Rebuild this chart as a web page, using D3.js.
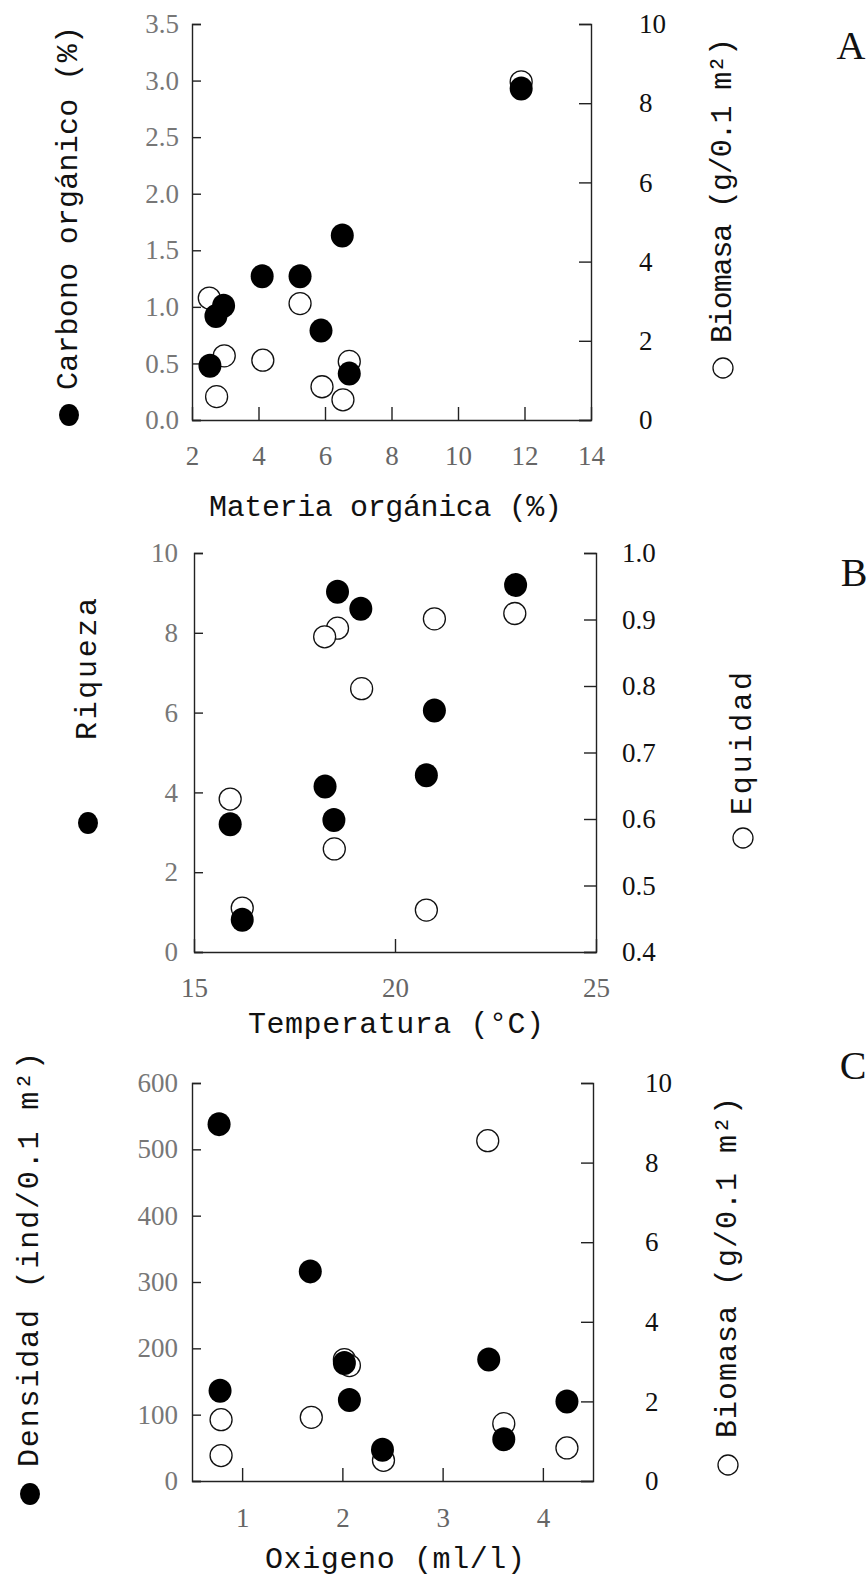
<!DOCTYPE html>
<meta charset="utf-8">
<script src="https://d3js.org/d3.v7.min.js"></script>
<style>
body { margin: 0; background-color: white; }
</style>
<div id="chart"></div>
<script>
// A: materia organica (%) -> carbono organico (filled) / biomasa (hollow)
var moFilled   = [11.9, 6.52, 4.11, 5.25, 2.95, 2.72, 5.88, 2.54, 6.73];
var carbono    = [2.93, 1.63, 1.27, 1.27, 1.01, 0.92, 0.79, 0.48, 0.41];
var moHollow   = [11.9, 2.52, 5.25, 2.97, 4.13, 6.73, 5.91, 6.54, 2.74];
var biomasaA   = [8.54, 3.08, 2.94, 1.62, 1.51, 1.48, 0.84, 0.51, 0.59];

// B: temperatura (C) -> riqueza (filled) / equidad (hollow)
var tempFilled = [18.57, 19.15, 23.0, 20.98, 20.78, 18.26, 18.48, 15.9, 16.2];
var riqueza    = [9.03, 8.6, 9.2, 6.05, 4.43, 4.15, 3.31, 3.2, 0.81];
var tempHollow = [22.98, 20.98, 18.57, 18.25, 19.17, 15.9, 18.49, 16.2, 20.78];
var equidad    = [0.909, 0.901, 0.887, 0.874, 0.796, 0.63, 0.555, 0.466, 0.463];

// C: oxigeno (ml/l) -> densidad (filled) / biomasa (hollow)
var oxFilled   = [0.77, 1.68, 0.78, 2.02, 2.07, 2.40, 3.46, 3.61, 4.24];
var densidad   = [538, 316, 136, 178, 122, 47, 183, 63, 120];
var oxHollow   = [3.45, 2.02, 2.07, 0.79, 1.69, 3.61, 0.79, 2.41, 4.24];
var biomasaC   = [8.55, 3.05, 2.9, 1.54, 1.6, 1.44, 0.64, 0.52, 0.83];

// ticks
var ticksA_x = [2, 4, 6, 8, 10, 12, 14];
var ticksA_l = [0, 0.5, 1, 1.5, 2, 2.5, 3, 3.5];
var ticksA_r = [0, 2, 4, 6, 8, 10];
var ticksB_x = [15, 20, 25];
var ticksB_l = [0, 2, 4, 6, 8, 10];
var ticksB_r = [0.4, 0.5, 0.6, 0.7, 0.8, 0.9, 1.0];
var ticksC_x = [1, 2, 3, 4];
var ticksC_l = [0, 100, 200, 300, 400, 500, 600];
var ticksC_r = [0, 2, 4, 6, 8, 10];

var width = 868, height = 1578;
var numFont = "'Liberation Serif', 'DejaVu Serif', serif";
var titleFont = "'Liberation Mono', 'DejaVu Sans Mono', monospace";

var svg = d3.select("#chart").append("svg")
    .attr("width", width)
    .attr("height", height);

svg.append("rect")
  .attr("width", "100%")
  .attr("height", "100%")
  .attr("fill", "white");

function rotTitle(g, x, y0, y1, txt) {
  g.append("text")
    .attr("transform", "translate(" + x + "," + y0 + ") rotate(-90)")
    .attr("dominant-baseline", "central")
    .attr("textLength", y0 - y1)
    .attr("lengthAdjust", "spacing")
    .style("font-family", titleFont)
    .style("font-size", "30px")
    .style("fill", "#111")
    .text(txt);
}

function drawPanel(p) {
  var x = d3.scaleLinear().domain(p.xDomain).range([p.left, p.right]);
  var yL = d3.scaleLinear().domain(p.yLDomain).range([p.bottom, p.top]);
  var yR = d3.scaleLinear().domain(p.yRDomain).range([p.bottom, p.top]);

  var g = svg.append("g");

  var gl = g.append("g")
      .attr("transform", "translate(" + p.left + ",0)")
      .call(d3.axisLeft(yL).tickValues(p.yLTicks).tickFormat(d3.format(p.yLFmt))
        .tickSizeInner(-9).tickSizeOuter(-9).tickPadding(p.padL));
  gl.selectAll("text").style("fill", "#777");

  var gr = g.append("g")
      .attr("transform", "translate(" + p.right + ",0)")
      .call(d3.axisRight(yR).tickValues(p.yRTicks).tickFormat(d3.format(p.yRFmt))
        .tickSizeInner(-12).tickSizeOuter(-12).tickPadding(p.padR));
  gr.selectAll("text").style("fill", "#111");

  var gb = g.append("g")
      .attr("transform", "translate(0," + p.bottom + ")")
      .call(d3.axisBottom(x).tickValues(p.xTicks).tickFormat(d3.format("d"))
        .tickSizeInner(-13).tickSizeOuter(0).tickPadding(p.padB));
  gb.selectAll("text").style("fill", "#666");

  g.selectAll(".domain, .tick line")
    .attr("stroke", "#222")
    .attr("stroke-width", 1.4);
  g.selectAll(".tick text")
    .style("font-family", numFont)
    .style("font-size", "27px");

  // hollow series (right axis)
  g.append("g")
    .selectAll("circle")
    .data(d3.zip(p.hx, p.hy))
    .join("circle")
      .attr("cx", function(d) { return x(d[0]); })
      .attr("cy", function(d) { return yR(d[1]); })
      .attr("r", 11)
      .attr("fill", "white")
      .attr("stroke", "#111")
      .attr("stroke-width", 1.3);

  // filled series (left axis)
  g.append("g")
    .selectAll("ellipse")
    .data(d3.zip(p.fx, p.fy))
    .join("ellipse")
      .attr("cx", function(d) { return x(d[0]); })
      .attr("cy", function(d) { return yL(d[1]); })
      .attr("rx", 11.5)
      .attr("ry", 12)
      .attr("fill", "#000");

  // axis titles with their symbols
  g.append("ellipse")
    .attr("cx", p.lt[0]).attr("cy", p.lt[1])
    .attr("rx", 10).attr("ry", 11).attr("fill", "#000");
  rotTitle(g, p.lt[0], p.lt[2], p.lt[3], p.leftTitle);

  g.append("circle")
    .attr("cx", p.rt[0]).attr("cy", p.rt[1])
    .attr("r", 10).attr("fill", "none")
    .attr("stroke", "#111").attr("stroke-width", 1.3);
  rotTitle(g, p.rt[0], p.rt[2], p.rt[3], p.rightTitle);

  g.append("text")
    .attr("x", p.bt[0])
    .attr("y", p.bt[2])
    .attr("dominant-baseline", "central")
    .attr("textLength", p.bt[1] - p.bt[0])
    .attr("lengthAdjust", "spacing")
    .style("font-family", titleFont)
    .style("font-size", "30px")
    .style("fill", "#111")
    .text(p.bottomTitle);

  g.append("text")
    .attr("x", p.letter[0])
    .attr("y", p.letter[1])
    .attr("text-anchor", "middle")
    .attr("dominant-baseline", "central")
    .style("font-family", numFont)
    .style("font-size", "40px")
    .style("fill", "#111")
    .text(p.letter[2]);
}

drawPanel({
  left: 192, right: 591, top: 24, bottom: 420,
  xDomain: [2, 14], yLDomain: [0, 3.5], yRDomain: [0, 10],
  xTicks: ticksA_x, yLTicks: ticksA_l, yRTicks: ticksA_r,
  yLFmt: ".1f", yRFmt: "d",
  padL: 13, padR: 48, padB: 26,
  fx: moFilled, fy: carbono, hx: moHollow, hy: biomasaA,
  leftTitle: "Carbono orgánico (%)", lt: [69, 415, 390, 26],
  rightTitle: "Biomasa (g/0.1 m²)", rt: [723, 368, 343, 38],
  bottomTitle: "Materia orgánica (%)", bt: [209, 562, 508],
  letter: [851, 45, "A"]
});

drawPanel({
  left: 194, right: 596, top: 553, bottom: 952,
  xDomain: [15, 25], yLDomain: [0, 10], yRDomain: [0.4, 1.0],
  xTicks: ticksB_x, yLTicks: ticksB_l, yRTicks: ticksB_r,
  yLFmt: "d", yRFmt: ".1f",
  padL: 16, padR: 26, padB: 26,
  fx: tempFilled, fy: riqueza, hx: tempHollow, hy: equidad,
  leftTitle: "Riqueza", lt: [88, 823, 740, 598],
  rightTitle: "Equidad", rt: [743, 838, 815, 672],
  bottomTitle: "Temperatura (°C)", bt: [248, 544, 1025],
  letter: [854, 572, "B"]
});

drawPanel({
  left: 192, right: 593, top: 1083, bottom: 1481,
  xDomain: [0.5, 4.5], yLDomain: [0, 600], yRDomain: [0, 10],
  xTicks: ticksC_x, yLTicks: ticksC_l, yRTicks: ticksC_r,
  yLFmt: "d", yRFmt: "d",
  padL: 14, padR: 52, padB: 27,
  fx: oxFilled, fy: densidad, hx: oxHollow, hy: biomasaC,
  leftTitle: "Densidad (ind/0.1 m²)", lt: [30, 1494, 1467, 1052],
  rightTitle: "Biomasa (g/0.1 m²)", rt: [728, 1465, 1438, 1097],
  bottomTitle: "Oxigeno (ml/l)", bt: [265, 525, 1560],
  letter: [853, 1065, "C"]
});
</script>
